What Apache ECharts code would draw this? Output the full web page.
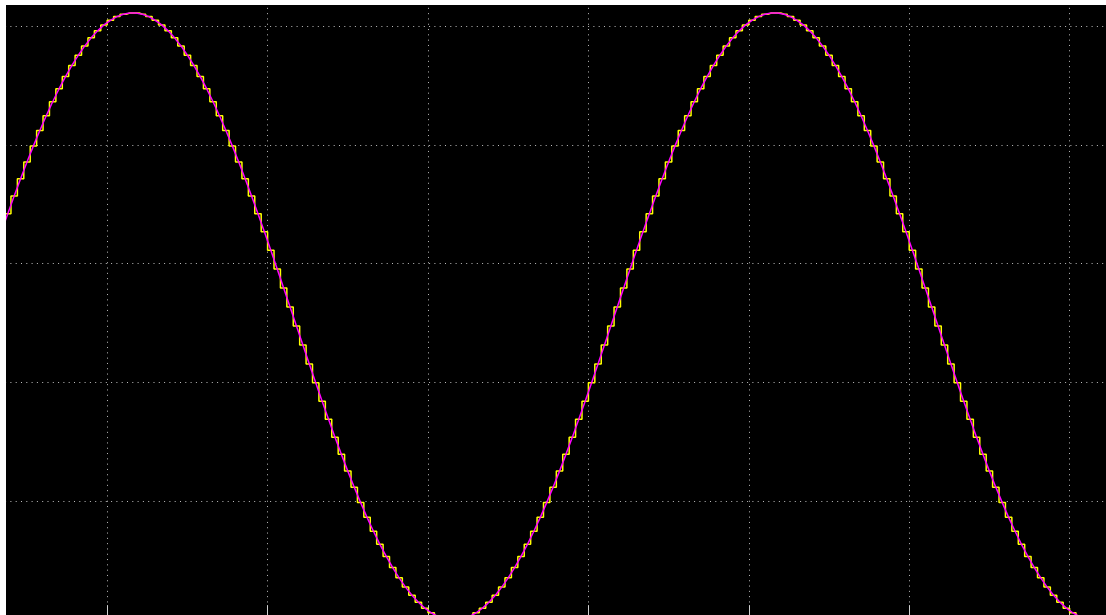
<!DOCTYPE html>
<html>
<head>
<meta charset="utf-8">
<script src="https://cdn.jsdelivr.net/npm/echarts@6/dist/echarts.min.js"></script>
<style>
  html, body { margin: 0; padding: 0; background: #ffffff; width: 1106px; height: 615px; overflow: hidden; }
  #chart { position: absolute; left: 6px; top: 5px; width: 1100px; height: 610px; background: #000000; }
</style>
</head>
<body>
<div id="chart"></div>
<script>
// position (in samples) of the first sample shown; samples are one step apart
const firstSample = 8.5;
const signalValues = [
  2.268, 2.420, 2.570, 2.715, 2.856, 2.991, 3.121, 3.245, 3.362, 3.472,
  3.574, 3.668, 3.754, 3.832, 3.900, 3.959, 4.009, 4.048, 4.079, 4.099,
  4.109,
  4.109, 4.099, 4.079, 4.048, 4.009, 3.959, 3.900, 3.832, 3.754, 3.668,
  3.574, 3.472, 3.362, 3.245, 3.121, 2.991, 2.856, 2.715, 2.570, 2.420,
  2.268, 2.112, 1.955, 1.795, 1.635, 1.475, 1.315, 1.155, 0.998, 0.842,
  0.690, 0.540, 0.395, 0.254, 0.119, -0.011, -0.135, -0.252, -0.362, -0.464,
  -0.558, -0.644, -0.722, -0.790, -0.849, -0.899, -0.938, -0.969, -0.989, -0.999,
  -0.999, -0.989, -0.969, -0.938, -0.899, -0.849, -0.790, -0.722, -0.644, -0.558,
  -0.464, -0.362, -0.252, -0.135, -0.011, 0.119, 0.254, 0.395, 0.540, 0.690,
  0.842, 0.998, 1.155, 1.315, 1.475, 1.635, 1.795, 1.955, 2.112, 2.268,
  2.420, 2.570, 2.715, 2.856, 2.991, 3.121, 3.245, 3.362, 3.472, 3.574,
  3.668, 3.754, 3.832, 3.900, 3.959, 4.009, 4.048, 4.079, 4.099, 4.109,
  4.109, 4.099, 4.079, 4.048, 4.009, 3.959, 3.900, 3.832, 3.754, 3.668,
  3.574, 3.472, 3.362, 3.245, 3.121, 2.991, 2.856, 2.715, 2.570, 2.420,
  2.268, 2.112, 1.955, 1.795, 1.635, 1.475, 1.315, 1.155, 0.998, 0.842,
  0.690, 0.540, 0.395, 0.254, 0.119, -0.011, -0.135, -0.252, -0.362, -0.464,
  -0.558, -0.644, -0.722, -0.790, -0.849, -0.899, -0.938, -0.969, -0.989, -0.999,
  -0.999, -0.989, -0.969
];
const sampleNumbers = signalValues.map((_, i) => firstSample + i);
// axis ranges and grid spacing (x: samples, y: grid divisions)
const xRange = [0, 200];
const xGridStep = 25;
const yRange = [-1, 5];
const yGridStep = 1;

const analogData = sampleNumbers.map((n, i) => [n, signalValues[i]]);
const heldData = sampleNumbers.map((n, i) => [n, signalValues[i]]);

const chart = echarts.init(document.getElementById('chart'), null, { renderer: 'canvas' });
const gridLineStyle = { color: '#bdbdbd', width: 1, type: [1, 4.3] };
chart.setOption({
  backgroundColor: '#000000',
  animation: false,
  grid: {
    left: -59.2, right: -124.0, top: -97.85, bottom: -5.13,
    outerBoundsMode: 'none', containLabel: false
  },
  xAxis: {
    type: 'value', min: xRange[0], max: xRange[1], interval: xGridStep,
    position: 'bottom',
    axisLine: { show: false, onZero: false },
    axisTick: { show: true, inside: true, length: 15, lineStyle: { color: '#d0d0d0', width: 1 } },
    axisLabel: { show: false },
    splitLine: { show: true, lineStyle: gridLineStyle }
  },
  yAxis: {
    type: 'value', min: yRange[0], max: yRange[1], interval: yGridStep,
    axisLine: { show: false, onZero: false },
    axisTick: { show: false },
    axisLabel: { show: false },
    splitLine: { show: true, lineStyle: gridLineStyle }
  },
  series: [
    {
      name: 'held', type: 'line', step: 'middle', data: heldData,
      showSymbol: false, symbol: 'none',
      lineStyle: { color: '#ffff00', width: 1.5 }, z: 2
    },
    {
      name: 'analog', type: 'line', data: analogData,
      showSymbol: false, symbol: 'none',
      lineStyle: { color: '#ff00ff', width: 1.5 }, z: 3
    }
  ]
});
</script>
</body>
</html>
